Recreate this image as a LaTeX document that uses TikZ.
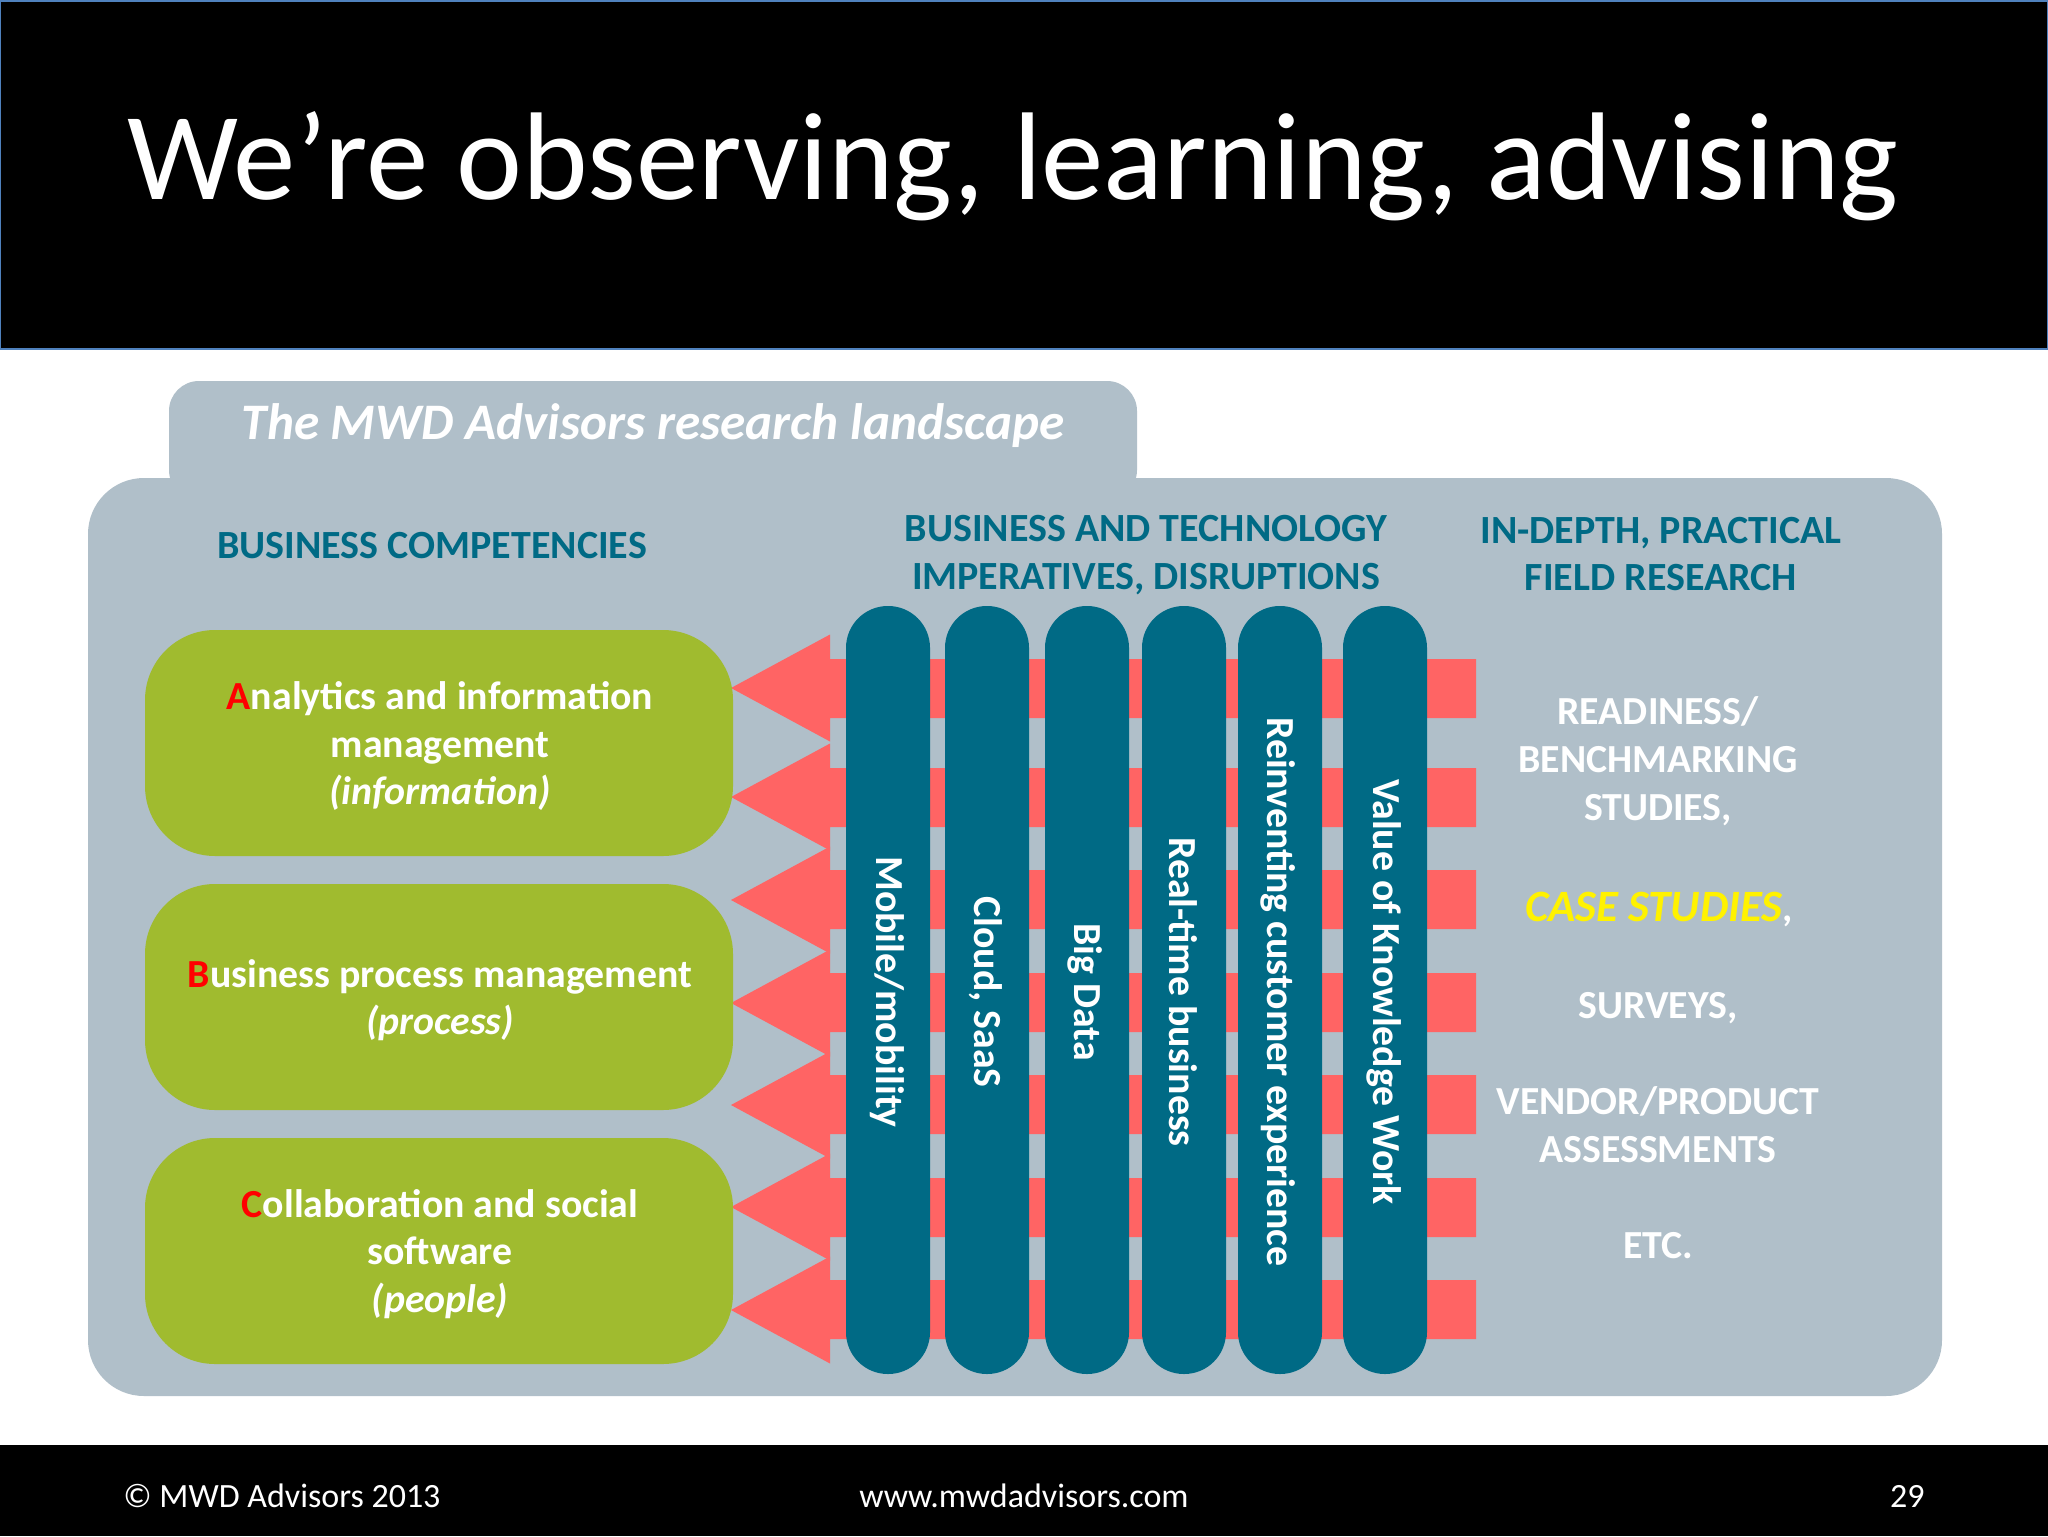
\documentclass[tikz,border=0pt]{standalone}
\usepackage{fontspec}
\setmainfont{Carlito}
\usepackage{tikz}
\usetikzlibrary{positioning}
\definecolor{panelgrey}{HTML}{B0BFC9}
\definecolor{compgreen}{HTML}{A0BB2F}
\definecolor{arrowred}{HTML}{FF6464}
\definecolor{pillarblue}{HTML}{006A85}
\definecolor{barblue}{HTML}{4F81BD}
\tikzset{panel/.style={
    % The fill:
    fill=panelgrey,
    draw=none,
    },
    compbox/.style={
    rectangle,
    rounded corners=35pt,
    minimum width=294pt,
    minimum height=113pt,
    fill=compgreen,
    },
    complabel/.style={
    align=center,
    text=white,
    font=\fontsize{19.9}{23.7}\selectfont\bfseries,
    },
    pillar/.style={
    rectangle,
    rounded corners=20.9pt,
    minimum width=42pt,
    minimum height=384pt,
    fill=pillarblue,
    },
    pillarlabel/.style={
    rotate=-90,
    text=white,
    font=\fontsize{19.9}{22}\selectfont\bfseries,
    },
    heading/.style={
    align=center,
    text=pillarblue,
    font=\fontsize{20}{23.7}\selectfont\bfseries,
    },
    fieldtext/.style={
    align=center,
    text=white,
    font=\fontsize{19.9}{24}\selectfont\bfseries,
    },
    foot/.style={
    text=white,
    font=\fontsize{17}{20}\selectfont,
    },
}
\begin{document}
\begin{tikzpicture}[x=0.5pt,y=-0.5pt]
    \useasboundingbox (0,0) rectangle (2048,1536);
    \fill[white] (0,0) rectangle (2048,1536);

    % title and footer bars
    \path[fill=black,draw=barblue,line width=1pt] (0,1) rectangle (2048,349);
    \fill[black] (0,1445) rectangle (2048,1536);
    \node (title) [anchor=base west,text=white,font=\fontsize{62.4}{70}\selectfont,inner sep=0pt] at (127,199) {We’re observing, learning, advising};

    % grey panel with its tab
    \fill[panel,rounded corners=15pt] (169,500) -- (169,381) -- (1137,381) -- (1137,500) -- cycle;
    \fill[panel,rounded corners=28pt] (88,478) rectangle (1942,1396);
    \node (tab) [text=white,font=\fontsize{25.6}{30}\selectfont\bfseries\itshape] at (653,426) {The MWD Advisors research landscape};

    % headings
    \node (comphead) [heading] at (432,546) {BUSINESS COMPETENCIES};
    \node (imphead)  [heading] at (1146,555) {BUSINESS AND TECHNOLOGY\\IMPERATIVES, DISRUPTIONS};
    \node (fieldhead)[heading] at (1661,554) {IN-DEPTH, PRACTICAL\\FIELD RESEARCH};

    % arrows
    \foreach \tipy/\shafttop in {688/659,797/768,900/870,1003/973,1105/1075,1207/1178,1310/1280}{
      \fill[arrowred] (731,\tipy) -- (830,\tipy-53.5) -- (830,\shafttop) -- (1476,\shafttop)
        -- (1476,\shafttop+59) -- (830,\shafttop+59) -- (830,\tipy+53.5) -- cycle;
    }

    % pillars
    \node (mobile)  [pillar] at (888,990)  {};
    \node (cloud)   [pillar] at (987,990)  {};
    \node (bigdata) [pillar] at (1087,990) {};
    \node (realtime)[pillar] at (1184,990) {};
    \node (reinvent)[pillar] at (1280,990) {};
    \node (value)   [pillar] at (1385,990) {};
    \node (mobiletext)  [pillarlabel] at (887,992)  {Mobile/mobility};
    \node (cloudtext)   [pillarlabel] at (986,992)  {Cloud, SaaS};
    \node (bigdatatext) [pillarlabel] at (1085,992) {Big Data};
    \node (realtimetext)[pillarlabel] at (1183,992) {Real-time business};
    \node (reinventtext)[pillarlabel] at (1278,992) {Reinventing customer experience};
    \node (valuetext)   [pillarlabel] at (1384,992) {Value of Knowledge Work};

    % competencies
    \node (analytics)[compbox] at (439,743)  {};
    \node (process)  [compbox] at (439,997)  {};
    \node (people)   [compbox] at (439,1251) {};
    \node (analyticstext)[complabel] at (440,746)  {\textcolor{red}{A}nalytics and information\\management\\\itshape (information)};
    \node (processtext)  [complabel] at (440,1000) {\textcolor{red}{B}usiness process management\\\itshape (process)};
    \node (peopletext)   [complabel] at (440,1254) {\textcolor{red}{C}ollaboration and social\\software\\\itshape (people)};

    % field research
    \node (readiness)[fieldtext] at (1658,761)  {READINESS/\\BENCHMARKING\\STUDIES,};
    \node (cases)    [fieldtext] at (1659,909)  {\textcolor{yellow}{\fontsize{22.4}{24}\selectfont\itshape CASE STUDIES},};
    \node (surveys)  [fieldtext] at (1658,1008) {SURVEYS,};
    \node (vendor)   [fieldtext] at (1658,1125) {VENDOR/PRODUCT\\ASSESSMENTS};
    \node (etc)      [fieldtext] at (1658,1246) {ETC.};

    % footer
    \node (copy) [foot,anchor=west,inner sep=0pt] at (123,1496) {© MWD Advisors 2013};
    \node (web)  [foot] at (1024,1496) {www.mwdadvisors.com};
    \node (page) [foot,anchor=east,inner sep=0pt] at (1925,1496) {29};
\end{tikzpicture}
\end{document}
